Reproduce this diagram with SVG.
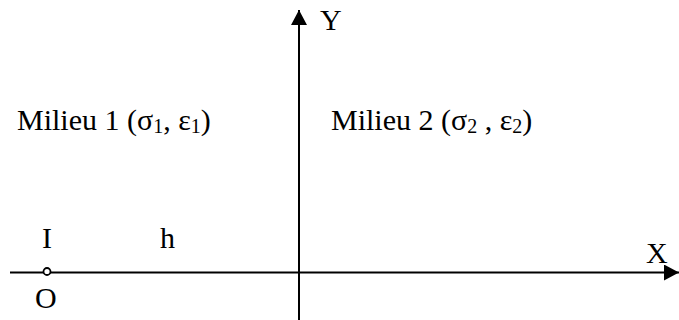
<svg xmlns="http://www.w3.org/2000/svg" width="679" height="320" viewBox="0 0 679 320" font-family="'Liberation Serif', 'Times New Roman', serif">
<style>
.t{font-size:30px;fill:#000}
.sub{font-size:20px}
.ax{stroke:#000;stroke-width:2;fill:none}
</style>
<defs>
<marker id="ah" markerWidth="15" markerHeight="16" refX="15" refY="8" orient="auto" markerUnits="userSpaceOnUse">
<path d="M0,0 L15,8 L0,16 Z" fill="#000"/>
</marker>
</defs>
<g id="connectors">
<line class="ax" x1="10" y1="272.5" x2="679" y2="272.5" stroke-width="1.8" marker-end="url(#ah)"/>
<line class="ax" x1="299" y1="320" x2="299" y2="10" marker-end="url(#ah)"/>
</g>
<g id="origin">
<circle cx="47" cy="271.5" r="3.5" fill="#fff" stroke="#000" stroke-width="1.8"/>
<text class="t" x="35" y="308">O</text>
<text class="t" x="42" y="248">I</text>
</g>
<g id="h"><text class="t" x="160" y="248">h</text></g>
<g id="Y"><text class="t" x="320" y="30">Y</text></g>
<g id="X"><text class="t" x="646" y="263">X</text></g>
<g id="milieu1"><text class="t" x="17" y="130">Milieu 1 (σ<tspan class="sub" dy="3">1</tspan><tspan dy="-3">, ε</tspan><tspan class="sub" dy="3">1</tspan><tspan dy="-3">)</tspan></text></g>
<g id="milieu2"><text class="t" x="331" y="130">Milieu 2 (σ<tspan class="sub" dy="3">2</tspan><tspan dy="-3"> , ε</tspan><tspan class="sub" dy="3">2</tspan><tspan dy="-3">)</tspan></text></g>
</svg>
